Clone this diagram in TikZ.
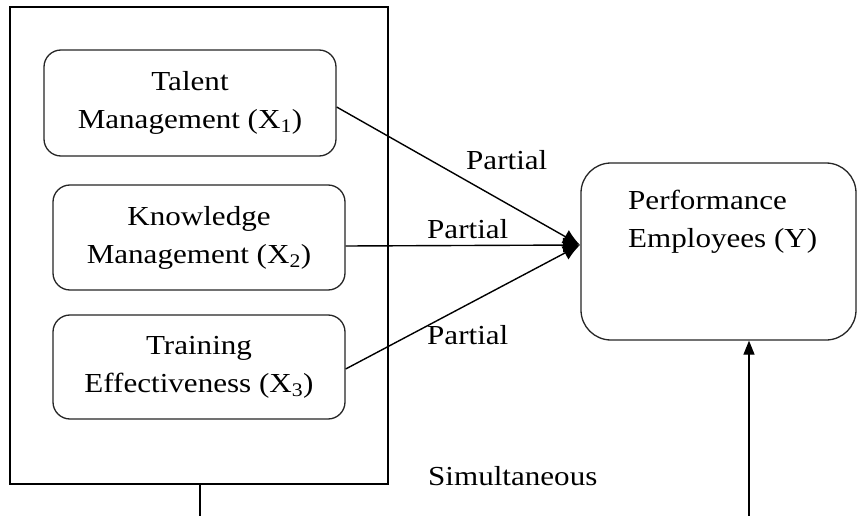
\documentclass[tikz,border=0pt]{standalone}
\usepackage{fontspec}
\setmainfont{Liberation Serif}[FakeStretch=1.13]
\usetikzlibrary{arrows.meta}
\tikzset{
  varbox/.style={draw=black!85, line width=1.3pt, rounded corners=17pt, minimum width=292pt, align=center, inner sep=0pt},
  lbl/.style={anchor=base west, inner sep=0pt},
  link/.style={line width=1.4pt, -{Latex[length=17pt,width=15pt]}},
}
\begin{document}
\begin{tikzpicture}[x=1pt,y=-1pt,font=\fontsize{27.5}{38}\selectfont]
\useasboundingbox (0,0) rectangle (857,516);
\fill[white] (0,0) rectangle (857,516);
\node[draw, line width=1.3pt, minimum width=378pt, minimum height=477pt, inner sep=0pt] (outer) at (199,245.5) {};
\node[varbox, minimum height=106pt] (tm) at (190,103) {Talent\\Management (X\textsubscript{1})};
\node[varbox, minimum height=105pt] (km) at (199,237.5) {Knowledge\\Management (X\textsubscript{2})};
\node[varbox, minimum height=104pt] (te) at (199,367) {Training\\Effectiveness (X\textsubscript{3})};
\node[draw=black!85, line width=1.3pt, rounded corners=30pt, minimum width=275pt, minimum height=177pt, inner sep=0pt] (perf) at (718.5,251.5) {};
\node[anchor=base west, align=left, inner sep=0pt] (ptxt) at (628,247) {Performance\\Employees (Y)};
\coordinate (tip) at (580,245);
\coordinate (b1) at (200,516);
\coordinate (b2) at (749,516);
\draw[link] ([yshift=-4pt]tm.east) -- (tip);
\draw[link] ([yshift=-8.5pt]km.east) -- (tip);
\draw[link] ([yshift=-2pt]te.east) -- (tip);
\draw[line width=1.3pt] (outer.south -| b1) -- (b1);
\draw[line width=1.3pt, -{Triangle[length=14pt,width=11pt]}] (b2) -- (perf.south -| b2);
\node[lbl] (p1) at (466,169) {Partial};
\node[lbl] (p2) at (427,238) {Partial};
\node[lbl] (p3) at (427,344) {Partial};
\node[lbl] (sim) at (428,485) {Simultaneous};
\end{tikzpicture}
\end{document}
